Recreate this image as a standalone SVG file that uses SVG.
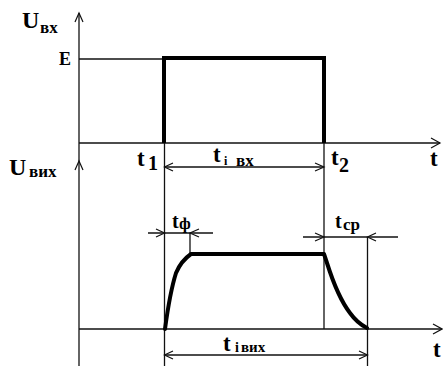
<svg xmlns="http://www.w3.org/2000/svg" width="443" height="366" viewBox="0 0 443 366">
<defs>
<style>
.ln{stroke:#111;stroke-width:1.3;fill:none}
.thk{stroke:#000;stroke-width:4;fill:none;stroke-linejoin:miter}
.crv{stroke:#000;stroke-width:4;fill:none;stroke-linecap:round;stroke-linejoin:round}
.ah{stroke:#111;stroke-width:1.2;fill:none}
text{font-family:"Liberation Serif","Times New Roman",serif;font-weight:bold;fill:#000}
.u{font-size:24px}
.big{font-size:23px}
.mid{font-size:20px}
.sub{font-size:17px}
</style>
</defs>
<g id="connectors">
<line class="ln" x1="79" y1="13" x2="79" y2="366"/>
<polyline class="ah" points="75,22 79,13 83,22"/>
<polyline class="ah" points="75,170 79,161 83,170"/>
<line class="ln" x1="79" y1="143" x2="440" y2="143"/>
<polyline class="ah" points="431,138 440,143 431,148"/>
<line class="ln" x1="79" y1="329" x2="442" y2="329"/>
<polyline class="ah" points="433,324 442,329 433,334"/>
<line class="ln" x1="79" y1="59" x2="164" y2="59"/>
<line class="ln" x1="164.5" y1="143" x2="164.5" y2="366"/>
<line class="ln" x1="324" y1="143" x2="324" y2="329"/>
<line class="ln" x1="190" y1="233" x2="190" y2="254"/>
<line class="ln" x1="367.5" y1="237" x2="367.5" y2="366"/>
<line class="ln" x1="164.5" y1="167" x2="324" y2="167"/>
<polyline class="ah" points="173,163 164.5,167 173,171"/>
<polyline class="ah" points="315,163 324,167 315,171"/>
<line class="ln" x1="148" y1="233" x2="213" y2="233"/>
<polyline class="ah" points="156,229 164.5,233 156,237"/>
<polyline class="ah" points="199,229 190,233 199,237"/>
<line class="ln" x1="303" y1="237" x2="398" y2="237"/>
<polyline class="ah" points="315,233 324,237 315,241"/>
<polyline class="ah" points="376,233 367.5,237 376,241"/>
<line class="ln" x1="164.5" y1="355" x2="367.5" y2="355"/>
<polyline class="ah" points="173,351 164.5,355 173,359"/>
<polyline class="ah" points="359,351 367.5,355 359,359"/>
</g>
<g id="input-pulse">
<polyline class="thk" points="164,143 164,58 324,58 324,143"/>
</g>
<g id="output-pulse">
<path class="crv" d="M165,329 Q170,292 176,273 Q181,261 191,254 L324,254 L327,263 C333,282 340,300 350,313 C355,320 361,325 367,328"/>
</g>
<g id="label-uvx">
<text class="u" x="22" y="28">U</text>
<text class="sub" x="40" y="33">вх</text>
</g>
<g id="label-e"><text x="59" y="65" style="font-size:18px">E</text></g>
<g id="label-uvyx">
<text class="u" x="9" y="175">U</text>
<text class="sub" x="29" y="177">вих</text>
</g>
<g id="label-t1">
<text class="big" x="137" y="166">t</text>
<text class="mid" x="148" y="170">1</text>
</g>
<g id="label-tivx">
<text class="big" x="213" y="162">t</text>
<text x="224" y="165" style="font-size:12px">i</text>
<text class="sub" x="236" y="166">вх</text>
</g>
<g id="label-t2">
<text class="big" x="331" y="165">t</text>
<text class="mid" x="339" y="172">2</text>
</g>
<g id="label-t-top"><text class="big" x="430" y="166">t</text></g>
<g id="label-tf">
<text class="mid" x="172" y="228">t</text>
<text x="179" y="229" style="font-size:17px">ф</text>
</g>
<g id="label-tsr">
<text class="mid" x="335" y="228">t</text>
<text x="343" y="230" style="font-size:17px">ср</text>
</g>
<g id="label-tivyx">
<text class="big" x="223" y="351">t</text>
<text x="235" y="352" style="font-size:14px">i</text>
<text x="241" y="352" style="font-size:15px">вих</text>
</g>
<g id="label-t-bottom"><text class="big" x="433" y="357">t</text></g>
</svg>
